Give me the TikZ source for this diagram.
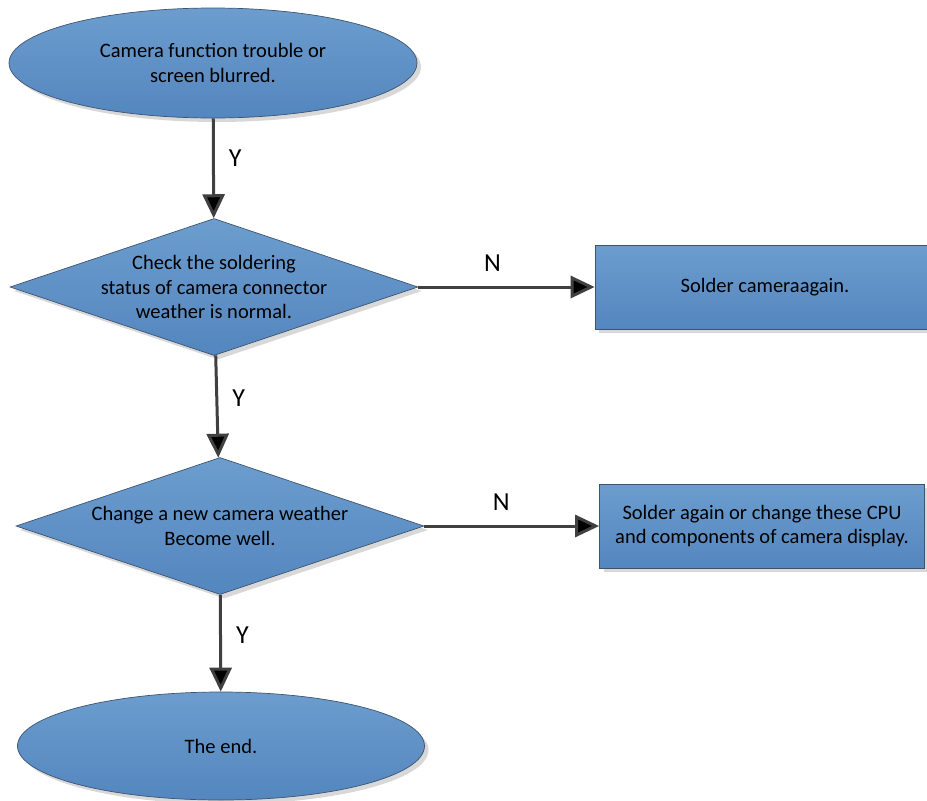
\documentclass[tikz,border=0pt]{standalone}
\usepackage{fontspec}
\setmainfont{Carlito}
\usetikzlibrary{arrows.meta,shapes.geometric,shadows}
\definecolor{flowtop}{RGB}{108,157,206}
\definecolor{flowbot}{RGB}{84,134,191}
\definecolor{flowline}{RGB}{62,84,110}
\definecolor{arrowgray}{RGB}{64,64,64}

\begin{document}
\begin{tikzpicture}[x=1pt,y=-1pt,auto,>={Triangle[length=24pt,width=22pt]},
  flow node/.style={draw=flowline,line width=0.7pt,top color=flowtop,bottom color=flowbot,
    drop shadow={shadow xshift=4pt,shadow yshift=-4pt,fill=black!30},
    font=\fontsize{20.5}{24.5}\selectfont,align=center,inner sep=0pt},
  end node/.style={flow node,ellipse,minimum width=408pt,minimum height=110pt},
  check node/.style={flow node,diamond,aspect=3,inner sep=-6pt,minimum width=408pt,minimum height=137pt},
  act node/.style={flow node,rectangle,minimum height=84pt},
  flow label/.style={font=\fontsize{26}{28}\selectfont,inner sep=14pt}]
  \clip (0,0) rectangle (927,801);
  \node[end node] (start) at (213,63) {Camera function trouble or\\screen blurred.};
  \node[check node] (check1) at (214,287) {Check the soldering\\status of camera connector\\weather is normal.};
  \node[act node,minimum width=340pt] (act1) at (765,287) {Solder cameraagain.};
  \node[check node] (check2) at (220,526) {Change a new camera weather\\Become well.};
  \node[act node,minimum width=325pt] (act2) at (762,526) {Solder again or change these CPU\\and components of camera display.};
  \node[end node,minimum width=407pt,minimum height=108pt] (end) at (221,746) {The end.};

\path[->,draw=arrowgray,line width=3pt]
  (start) edge node[flow label,pos=0.4] {Y} (check1)
  (check1) edge node[flow label,pos=0.42] {N} (act1)
  (check1) edge node[flow label,pos=0.42] {Y} (check2)
  (check2) edge node[flow label,pos=0.44] {N} (act2)
  (check2) edge node[flow label,pos=0.42] {Y} (end)
;
\end{tikzpicture}
\end{document}
